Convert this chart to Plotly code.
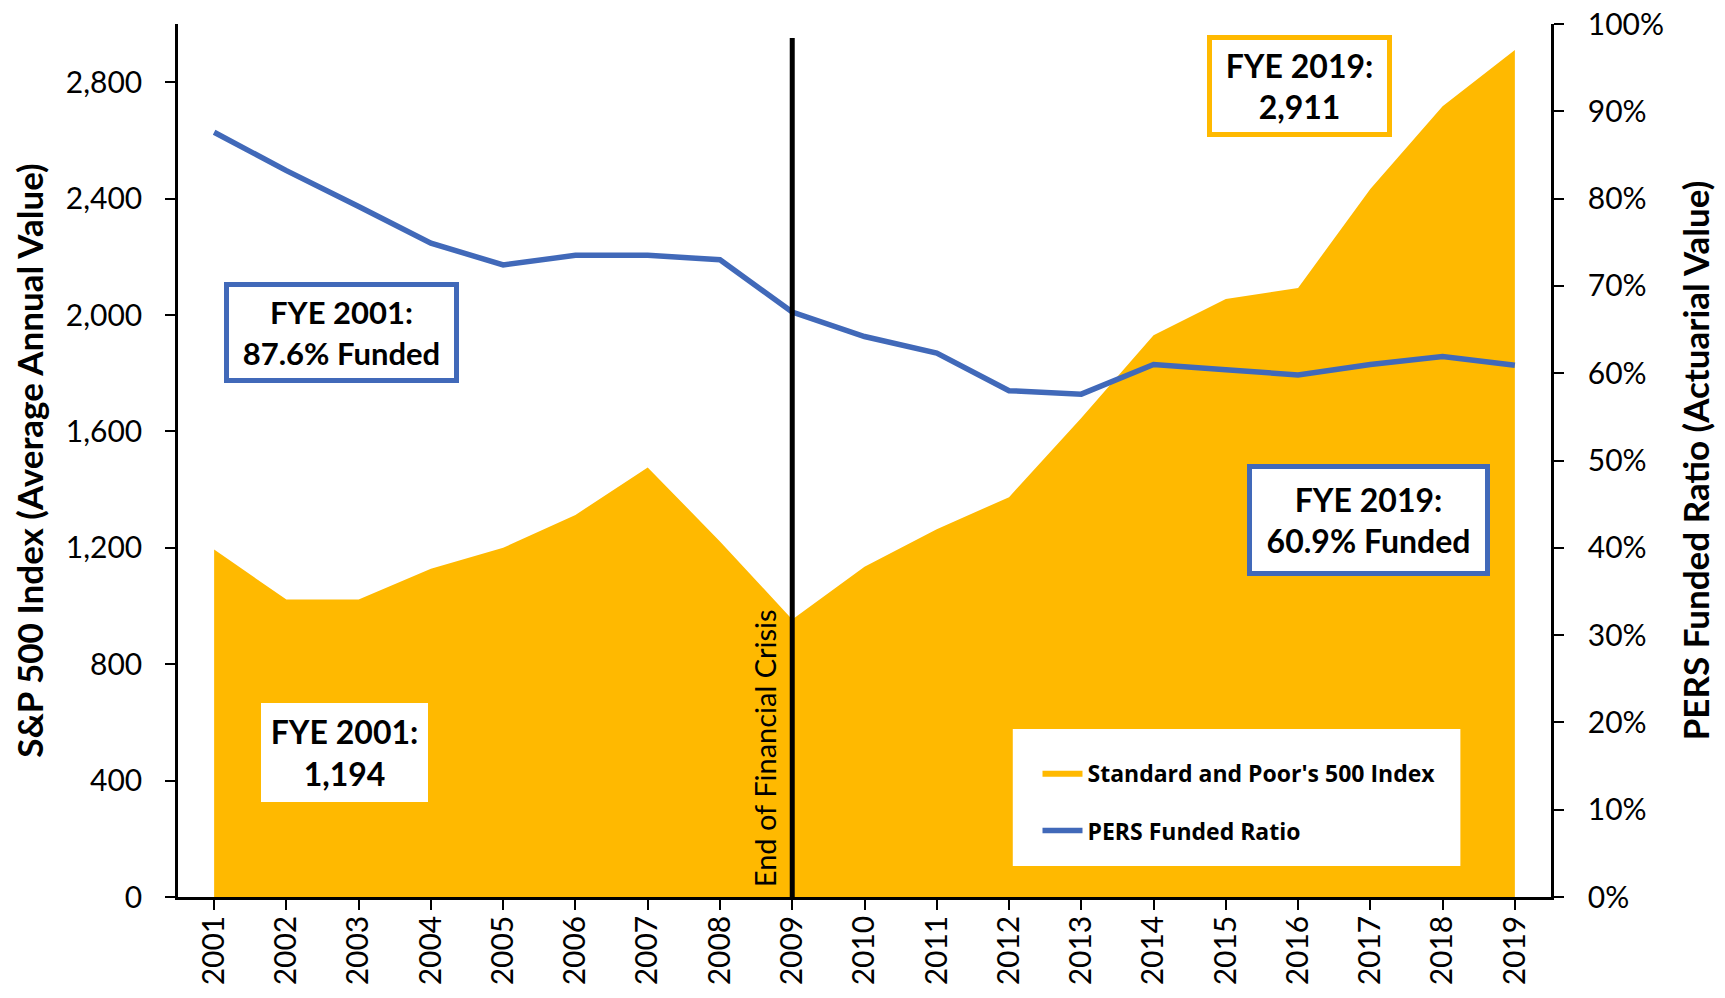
import plotly.graph_objects as go

years = list(range(2001, 2020))
sp500 = [1194, 1022, 1022, 1128, 1200, 1313, 1476, 1222, 954, 1135, 1264, 1374, 1646, 1930, 2055, 2093, 2433, 2717, 2911]
funded = [0.876, 0.832, 0.791, 0.749, 0.724, 0.735, 0.735, 0.730, 0.670, 0.642, 0.623, 0.580, 0.576, 0.610, 0.604, 0.598, 0.610, 0.619, 0.609]

GOLD = "#ffb900"
BLUE = "#4169b9"

fig = go.Figure()
fig.add_trace(go.Scatter(
    x=years, y=sp500, name="Standard and Poor's 500 Index",
    mode="lines", fill="tozeroy", fillcolor=GOLD, line=dict(color=GOLD, width=0),
    legendgroup="a", yaxis="y"))
fig.add_trace(go.Scatter(
    x=years, y=funded, name="PERS Funded Ratio",
    mode="lines", line=dict(color=BLUE, width=5.5),
    legendgroup="b", yaxis="y2"))

tickfont = dict(family="Lato", size=30, color="black")
titlefont = dict(family="Lato", size=35, color="black", weight="bold")

# page body has an 8px margin, so the figure is sized/positioned to compensate
fig.update_layout(
    width=1709, height=982,
    margin=dict(l=170, r=166, t=16, b=93),
    paper_bgcolor="white", plot_bgcolor="white",
    showlegend=True,
    xaxis=dict(range=[2000.5, 2019.5], tickmode="array", tickvals=years,
               ticktext=[str(y) for y in years], tickangle=-90, automargin=False,
               showgrid=False, zeroline=False, showline=True, linecolor="black", linewidth=2.5,
               ticks="outside", ticklen=10, tickwidth=2, tickcolor="black",
               tickfont=tickfont, ticklabelstandoff=-6, ticklabeloverflow="allow"),
    yaxis=dict(range=[0, 3000], tickvals=[0, 400, 800, 1200, 1600, 2000, 2400, 2800],
               tickformat=",d", showgrid=False, zeroline=False, showline=True, automargin=False,
               linecolor="black", linewidth=2.5, ticks="outside", ticklen=10, tickwidth=2,
               tickcolor="black", tickfont=tickfont, ticklabelstandoff=17, ticklabeloverflow="allow",
               title=dict(text="S&P 500 Index (Average Annual Value)", font=titlefont, standoff=13)),
    yaxis2=dict(range=[0, 1], overlaying="y", side="right", tickformat=".0%", automargin=False,
                dtick=0.1, showgrid=False, zeroline=False, showline=True,
                linecolor="black", linewidth=2.5, ticks="outside", ticklen=10, tickwidth=2,
                tickcolor="black", tickfont=tickfont, ticklabelstandoff=18, ticklabeloverflow="allow",
                title=dict(text="PERS Funded Ratio (Actuarial Value)", font=titlefont, standoff=22)),
    legend=dict(x=0.626, y=0.167, xanchor="left", yanchor="top", bgcolor="rgba(0,0,0,0)",
                font=dict(family="Open Sans", size=23, color="black", weight="bold"),
                traceorder="grouped", tracegroupgap=25, itemwidth=40),
)

# legend background box
fig.add_shape(type="rect", xref="paper", yref="paper", x0=0.608, x1=0.934, y0=0.0355, y1=0.1924,
              fillcolor="white", line=dict(width=0), layer="above")
# financial crisis line
fig.add_shape(type="line", xref="x", yref="paper", x0=2009, x1=2009, y0=0, y1=0.984,
              line=dict(color="black", width=5), layer="above")

fig.add_annotation(x=2008.88, y=0.009, xref="x", yref="paper", xanchor="right", yanchor="bottom",
                   text="End of Financial Crisis", textangle=-90, showarrow=False,
                   font=dict(family="Lato", size=29, color="black"))

boxfont = dict(family="Lato", size=32, color="black", weight="bold")
common = dict(xref="paper", yref="paper", showarrow=False, xanchor="center", yanchor="middle",
              bgcolor="white", borderpad=0)
fig.add_annotation(x=0.1194, y=0.647, text="FYE 2001:<br>87.6% Funded", width=225, height=91,
                   bordercolor=BLUE, borderwidth=5,
                   font=dict(family="Lato", size=31, color="black", weight="bold"), **common)
fig.add_annotation(x=0.1216, y=0.165, text="FYE 2001:<br>1,194", width=167, height=99,
                   borderwidth=0, font=boxfont, **common)
fig.add_annotation(x=0.8165, y=0.929, text="FYE 2019:<br>2,911", width=175, height=92,
                   bordercolor=GOLD, borderwidth=5, font=boxfont, **common)
fig.add_annotation(x=0.8674, y=0.432, text="FYE 2019:<br>60.9% Funded", width=233, height=102,
                   bordercolor=BLUE, borderwidth=5, font=boxfont, **common)

fig.write_html("out.html")
